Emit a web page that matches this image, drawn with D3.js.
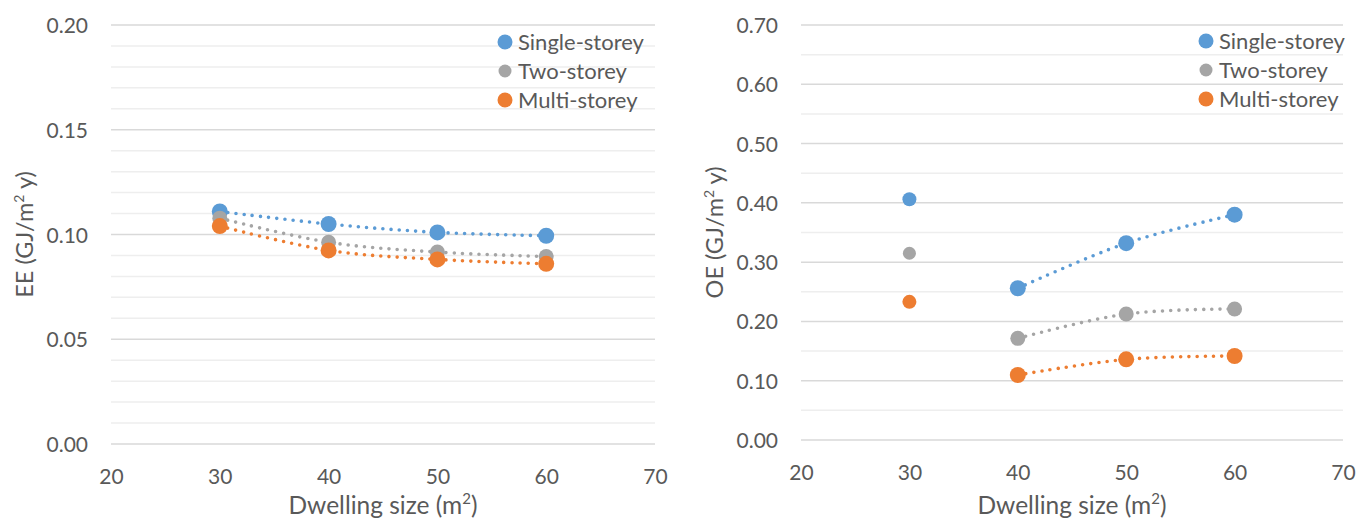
<!DOCTYPE html>
<html><head><meta charset="utf-8">
<script src="https://cdn.jsdelivr.net/npm/d3@7"></script>
<style>
html,body{margin:0;padding:0;background:#fff;}
svg text{font-family:Lato,"Open Sans",sans-serif;fill:#595959;}
</style></head>
<body><svg id="c" width="1357" height="520"></svg>
<script>
// ---- data ----
const sizes = [30, 40, 50, 60];
const seriesNames = ["Single-storey", "Two-storey", "Multi-storey"];
const seriesColors = ["#5B9BD5", "#A5A5A5", "#ED7D31"];
// Left: embodied energy EE (GJ/m2 y)
const eeSingle = [0.111, 0.105, 0.101, 0.0994];
const eeTwo    = [0.1078, 0.0963, 0.0916, 0.0895];
const eeMulti  = [0.104, 0.0924, 0.0881, 0.086];
// Right: operational energy OE (GJ/m2 y)
const oeSingle = [0.406, 0.256, 0.332, 0.380];
const oeTwo    = [0.315, 0.1715, 0.2125, 0.221];
const oeMulti  = [0.233, 0.1096, 0.136, 0.1417];
const xTicks = [20, 30, 40, 50, 60, 70];
const eeTicks = [0, 0.05, 0.10, 0.15, 0.20];
const oeTicks = [0, 0.1, 0.2, 0.3, 0.4, 0.5, 0.6, 0.7];

const svg = d3.select("#c");

function panel(opt) {
  const g = svg.append("g");
  const x = d3.scaleLinear().domain([20, 70]).range([opt.x0, opt.x1]);
  const y = d3.scaleLinear().domain([0, opt.ymax]).range([opt.y1, opt.y0]);
  // minor gridlines
  g.append("g").selectAll("line").data(opt.minor).join("line")
    .attr("x1", x(20)).attr("x2", x(70))
    .attr("y1", d => y(d)).attr("y2", d => y(d))
    .attr("stroke", "#EEEEEE").attr("stroke-width", 1.5);
  // major gridlines
  g.append("g").selectAll("line").data(opt.ticks).join("line")
    .attr("x1", x(20)).attr("x2", x(70))
    .attr("y1", d => y(d)).attr("y2", d => y(d))
    .attr("stroke", "#D9D9D9").attr("stroke-width", 1.5);
  // y axis
  const ya = g.append("g").attr("transform", `translate(${x(20) - 23},0)`)
    .call(d3.axisLeft(y).tickValues(opt.ticks).tickFormat(d3.format(".2f")).tickSize(0).tickPadding(0));
  ya.select(".domain").remove();
  ya.selectAll("text").attr("font-size", 21).attr("fill", "#595959")
    .style("font-family", "Lato").attr("dy", "0.36em");
  // x axis
  const xa = g.append("g").attr("transform", `translate(0,${opt.y1 + 32})`)
    .call(d3.axisBottom(x).tickValues(xTicks).tickFormat(d3.format("d")).tickSize(0).tickPadding(0));
  xa.select(".domain").remove();
  xa.selectAll("text").attr("font-size", 21).attr("fill", "#595959")
    .style("font-family", "Lato").attr("dy", "0.36em");
  // x title
  const xt = g.append("text").attr("x", (opt.x0 + opt.x1) / 2).attr("y", 514)
    .attr("text-anchor", "middle").attr("font-size", 24.5);
  xt.append("tspan").text("Dwelling size (m");
  xt.append("tspan").text("2").attr("font-size", 15).attr("dy", -10);
  xt.append("tspan").text(")").attr("dy", 10);
  // y title
  const yt = g.append("text")
    .attr("transform", `translate(${opt.ytx},${(opt.y0 + opt.y1) / 2}) rotate(-90)`)
    .attr("text-anchor", "middle").attr("dy", "0.35em").attr("font-size", 23.5);
  yt.append("tspan").text(opt.ytitle + " (GJ/m");
  yt.append("tspan").text("2").attr("font-size", 14).attr("dy", -9);
  yt.append("tspan").text(" y)").attr("dy", 9);

  const line = d3.line().x(d => x(d[0])).y(d => y(d[1])).curve(d3.curveCatmullRom.alpha(0));
  opt.series.forEach((vals, i) => {
    const pts = sizes.map((s, k) => [s, vals[k]]);
    const linePts = pts.filter(p => p[0] >= opt.lineFrom);
    g.append("path").datum(linePts).attr("d", line)
      .attr("fill", "none").attr("stroke", seriesColors[i]).attr("stroke-width", 3.6)
      .attr("stroke-linecap", "round").attr("stroke-dasharray", "0 8.2");
  });
  opt.series.forEach((vals, i) => {
    const pts = sizes.map((s, k) => [s, vals[k]]);
    g.append("g").selectAll("circle").data(pts).join("circle")
      .attr("cx", d => x(d[0])).attr("cy", d => y(d[1]))
      .attr("r", d => (d[0] < opt.lineFrom ? opt.rIso : opt.r) - (i === 1 ? 0.5 : 0))
      .attr("fill", seriesColors[i]);
  });
  // legend
  const lg = g.append("g");
  seriesNames.forEach((n, i) => {
    const ly = opt.legY + i * 29;
    lg.append("circle").attr("cx", opt.legX).attr("cy", ly).attr("r", i === 1 ? 6.5 : 7.5)
      .attr("fill", seriesColors[i]);
    lg.append("text").attr("x", opt.legX + 13).attr("y", ly).attr("dy", "0.36em")
      .attr("font-size", 22).text(n);
  });
}

panel({
  x0: 111, x1: 655, y0: 25, y1: 444, ymax: 0.2,
  ticks: eeTicks, minor: d3.range(1, 20).map(i => i / 100).filter(v => Math.round(v * 100) % 5 !== 0),
  series: [eeSingle, eeTwo, eeMulti], lineFrom: 30, r: 8, rIso: 8,
  ytitle: "EE", ytx: 25, legX: 505, legY: 42
});
panel({
  x0: 801, x1: 1343, y0: 25, y1: 440, ymax: 0.7,
  ticks: oeTicks, minor: [0.05, 0.15, 0.25, 0.35, 0.45, 0.55, 0.65],
  series: [oeSingle, oeTwo, oeMulti], lineFrom: 40, r: 8, rIso: 7,
  ytitle: "OE", ytx: 715, legX: 1206, legY: 41
});
</script></body></html>
